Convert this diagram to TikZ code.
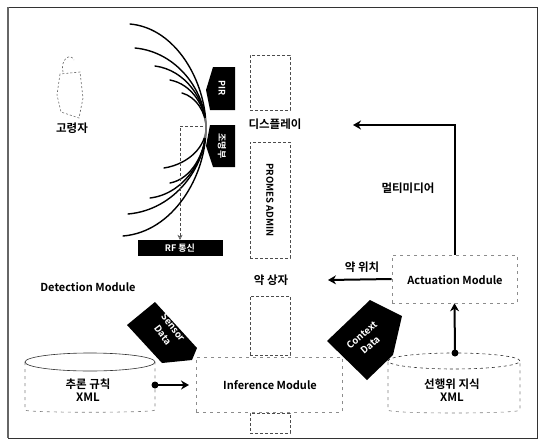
\documentclass[tikz,border=0pt]{standalone}
\usepackage{fontspec}
\setmainfont{Noto Sans CJK KR}[BoldFont={Noto Sans CJK KR Bold}]
\usetikzlibrary{arrows.meta}
\tikzset{
  lbl/.style={font=\bfseries\fontsize{11.5}{13}\selectfont, inner sep=0pt},
  eng/.style={font=\bfseries\fontsize{11}{13}\selectfont, inner sep=0pt},
  wtxt/.style={text=white, font=\bfseries\fontsize{9}{10}\selectfont, inner sep=0pt, align=center},
  tagtxt/.style={text=white, font=\bfseries\fontsize{9.5}{11}\selectfont, inner sep=0pt},
  col/.style={draw=black!70, densely dashed, line width=0.6pt},
  faint/.style={draw=black!45, dash pattern=on 3pt off 4pt, line width=0.6pt},
  flow/.style={line width=2pt, -{Stealth[length=8pt,width=9pt]}},
  beam/.style={line width=1.4pt, line cap=round},
  dbtop/.style={draw=black!80, line width=0.6pt},
}
\begin{document}
\begin{tikzpicture}[x=1pt,y=-1pt]
\useasboundingbox (0,0) rectangle (541,442);
\fill[white] (0,0) rectangle (541,442);
% outer frame
\draw[line width=1pt, black!80] (8,7) rectangle (537,438);
\draw[line width=2pt, black!60] (8,7) -- (8,438);

% elderly person outline
\draw[faint, black!60, dash pattern=on 2pt off 2pt]
  (63,72) .. controls (60,60) and (70,52) .. (74,60)
  (60,74) -- (57,95) -- (61,112) -- (79,118) -- (83,98) -- (80,72) -- cycle;
\node[lbl] (elder) at (72,128) {고령자};

% sensing beams converging on the sensor pair
\foreach \sx/\sy/\ex/\ey in {130/24/123/236, 135/48/128/214, 155/66/150/198, 170/80/170/183, 182/93/164/168} {
  \draw[beam] (\sx,\sy) .. controls ({\sx+(206-\sx)*0.6},{\sy+4}) and (206,{128-(128-\sy)*0.45}) .. (206,128)
     .. controls (206,{128+(\ey-128)*0.45}) and ({\ex+(206-\ex)*0.6},{\ey-4}) .. (\ex,\ey);
}
\fill[white, opacity=0.45] (206,128) circle (10pt);

% sensors
\fill[black] (213,67) -- (235,67) -- (235,110) -- (210,110) -- (206,90) -- cycle;
\node[wtxt, rotate=-90] (pir) at (222,88) {PIR};
\fill[black] (210,125) -- (235,125) -- (235,167) -- (213,167) -- (206,146) -- cycle;
\node[wtxt, rotate=-90] (light) at (222,146) {조명부};

% RF link
\node[fill=black, minimum width=85pt, minimum height=16pt, wtxt] (rf) at (180,248) {RF 통신};
\coordinate (tap) at (203,126);
\draw[densely dashed, black!70, line width=0.6pt, -{Stealth[open,length=5pt,width=5pt]}] (tap) -| (rf.north);
\node[eng] (det) at (88,287) {Detection Module};

% PROMES column
\node[col, minimum width=40pt, minimum height=55pt, inner sep=0pt] (dispbox) at (270,82.5) {};
\node[lbl] (disp) at (275,124) {디스플레이};
\node[col, minimum width=40pt, minimum height=116pt, inner sep=0pt] (admin) at (270,200) {};
\node[font=\bfseries\fontsize{9.5}{11}\selectfont, rotate=-90, inner sep=0pt] at (admin.center) {PROMES ADMIN};
\node[lbl] (pill) at (271,280) {약 상자};
\node[col, minimum width=40pt, minimum height=59pt, inner sep=0pt] (pillbox) at (270,325.5) {};
\node[col, minimum width=40pt, minimum height=20pt, inner sep=0pt] (basebox) at (270,423) {};

% inference module
\node[faint, minimum width=146pt, minimum height=55pt, inner sep=0pt] (infbox) at (269,384.5) {};
\node[eng] (inf) at (270,385) {Inference Module};

% actuation module
\node[faint, minimum width=125pt, minimum height=48pt, inner sep=0pt] (act) at (454.5,279) {};
\node[eng] (actl) at (455,280) {Actuation Module};
\coordinate (dispin) at (353,125);
\draw[flow] (act.north) |- (dispin);
\node[lbl] (mm) at (408,188) {멀티미디어};
\coordinate (pillin) at (328,280);
\draw[flow] (act.west) -- (pillin);
\node[lbl] (loc) at (362,267) {약 위치};

% rule base cylinder
\draw[faint, black!50] (25,362) -- (25,410) .. controls (25,413) and (155,413) .. (155,410) -- (155,362);
\draw[dbtop] (90,362) ellipse (65pt and 9pt);
\node[lbl, align=center] (rules) at (88,390) {추론 규칙\\XML};
\coordinate (rulesout) at (155,385);
\coordinate (infin) at (189,385);
\fill (rulesout) circle (3.5pt);
\draw[flow] (rulesout) -- (infin);

% prior-behaviour knowledge cylinder
\draw[faint, black!50] (388,362) -- (388,410) .. controls (388,414) and (520,414) .. (520,410) -- (520,362);
\draw[dbtop, dashed] (454,361) ellipse (66pt and 8pt);
\node[lbl, align=center] (know) at (452,390) {선행위 지식\\XML};
\coordinate (knowout) at (455,353);
\fill (knowout) circle (3.5pt);
\draw[flow] (knowout) -- (act.south);

% data tags
\fill[black] (127,325) -- (155,302) -- (197,348) -- (192,360) -- (162,363) -- cycle;
\node[tagtxt, rotate=-53] (sensor1) at (173.2,327.1) {Sensor};
\node[tagtxt, rotate=-53] (sensor2) at (162.8,334.9) {Data};
\fill[black] (327,341) -- (370,300) -- (402,316) -- (393,355) -- (367,380) -- cycle;
\node[tagtxt, rotate=40] (context1) at (361.8,335) {Context};
\node[tagtxt, rotate=40] (context2) at (370.2,345) {Data};
\end{tikzpicture}
\end{document}
